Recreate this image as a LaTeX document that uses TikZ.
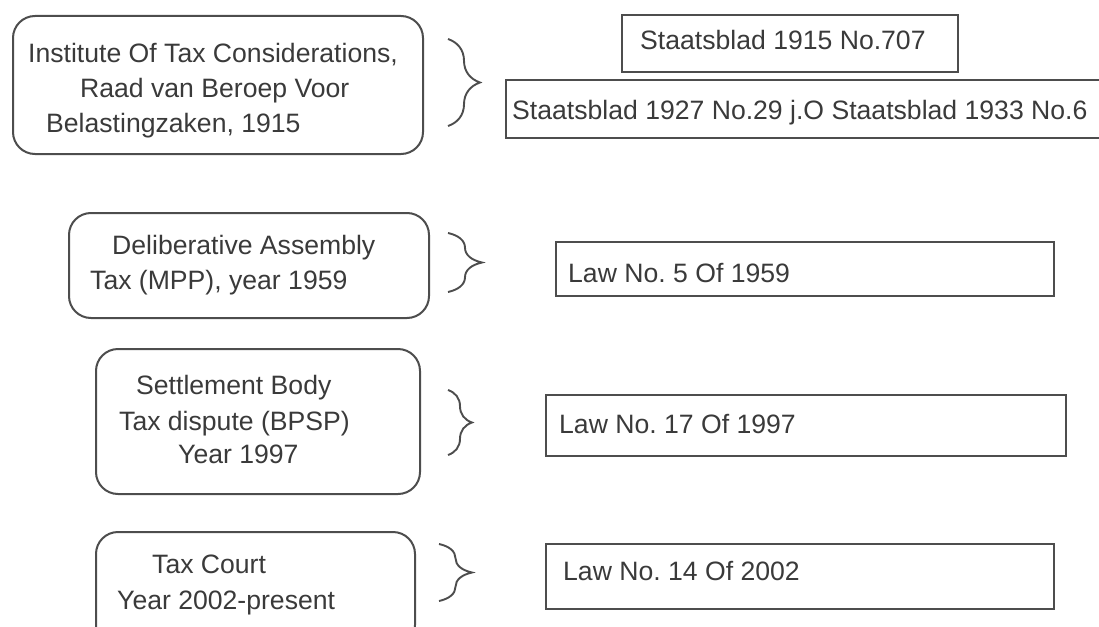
\documentclass[tikz,border=0pt]{standalone}
\usepackage{fontspec}
\setmainfont{Liberation Sans}
\usetikzlibrary{decorations.pathreplacing}

\definecolor{inkgray}{HTML}{3A3A3A}
\definecolor{edgegray}{HTML}{4D4D4D}

\tikzset{
  body/.style={draw=edgegray, line width=2pt, rounded corners=22pt, inner sep=0pt, anchor=north west},
  lawbox/.style={draw=edgegray, line width=2.2pt, inner sep=0pt, anchor=north west},
  lbl/.style={anchor=base west, inner sep=0pt, text=inkgray, font=\fontsize{26.6}{30}\selectfont},
  brc/.style={draw=edgegray, line width=1.9pt, decorate, decoration={brace, amplitude=#1pt}},
}

\begin{document}
\frenchspacing
\begin{tikzpicture}[x=1pt, y=-1pt]
\useasboundingbox (0,0) rectangle (1099,626);

% Institute of Tax Considerations, 1915
\node[body, minimum width=410pt, minimum height=138pt] (itc) at (12,15) {};
\node[lbl] (itc1) at (28,63) {Institute Of Tax Considerations,};
\node[lbl] (itc2) at (80,97) {Raad van Beroep Voor};
\node[lbl] (itc3) at (46,132) {Belastingzaken, 1915};
\coordinate (b1t) at (448,39);
\coordinate (b1b) at (448,126);
\draw[brc=32] (b1t) -- (b1b);
\node[lawbox, minimum width=336pt, minimum height=57pt] (stb1915) at (621,14) {};
\node[lbl] (stb1915t) at (640,50) {Staatsblad 1915 No.707};
\node[lawbox, minimum width=620pt, minimum height=58pt] (stb1927) at (505,79) {};
\node[lbl] (stb1927t) at (512,119) {Staatsblad 1927 No.29 j.O Staatsblad 1933 No.6};

% Deliberative Assembly Tax, 1959
\node[body, minimum width=360pt, minimum height=105pt] (mpp) at (68,212) {};
\node[lbl] (mpp1) at (112,254) {Deliberative Assembly};
\node[lbl] (mpp2) at (90,289) {Tax (MPP), year 1959};
\coordinate (b2t) at (448,233);
\coordinate (b2b) at (448,292);
\draw[brc=34] (b2t) -- (b2b);
\node[lawbox, minimum width=498pt, minimum height=54pt] (law5) at (555,241) {};
\node[lbl] (law5t) at (568,282) {Law No. 5 Of 1959};

% Settlement Body Tax dispute, 1997
\node[body, minimum width=324pt, minimum height=145pt] (bpsp) at (95,348) {};
\node[lbl] (bpsp1) at (136,394) {Settlement Body};
\node[lbl] (bpsp2) at (119,430) {Tax dispute (BPSP)};
\node[lbl] (bpsp3) at (178,463) {Year 1997};
\coordinate (b3t) at (448,390);
\coordinate (b3b) at (448,455);
\draw[brc=24] (b3t) -- (b3b);
\node[lawbox, minimum width=520pt, minimum height=61pt] (law17) at (545,394) {};
\node[lbl] (law17t) at (559,433) {Law No. 17 Of 1997};

% Tax Court, 2002
\node[body, minimum width=319pt, minimum height=115pt] (court) at (95,531) {};
\node[lbl] (court1) at (152,573) {Tax Court};
\node[lbl] (court2) at (117,609) {Year 2002-present};
\coordinate (b4t) at (439,544);
\coordinate (b4b) at (439,601);
\draw[brc=33] (b4t) -- (b4b);
\node[lawbox, minimum width=508pt, minimum height=65pt] (law14) at (545,543) {};
\node[lbl] (law14t) at (563,580) {Law No. 14 Of 2002};
\end{tikzpicture}
\end{document}
